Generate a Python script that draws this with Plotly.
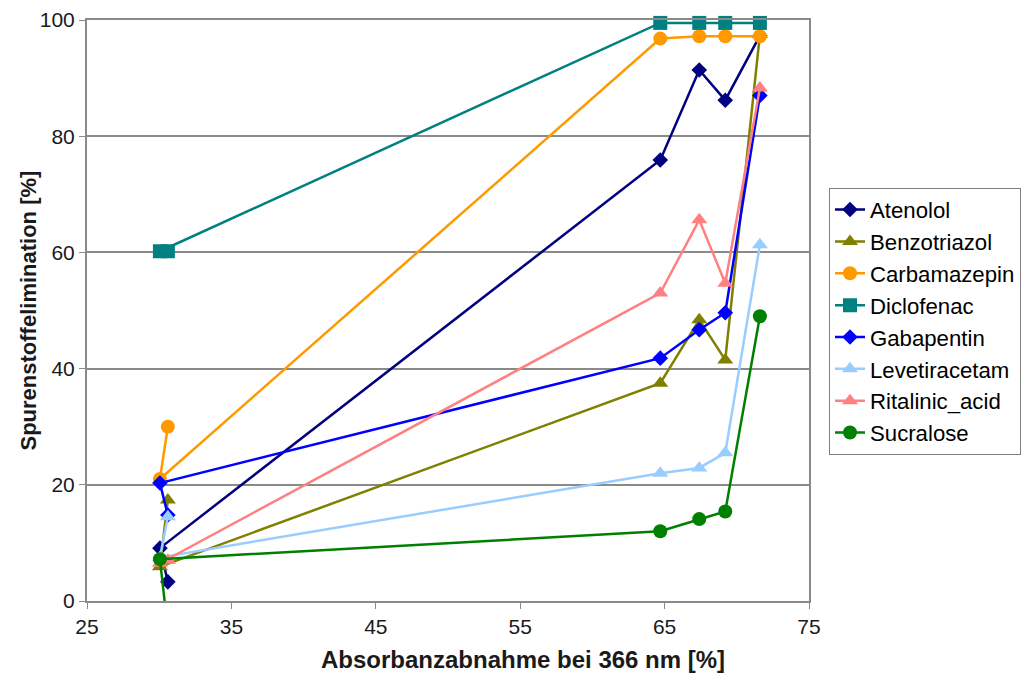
import plotly.graph_objects as go

# Absorbance decrease at 366 nm [%] for each sample (same order for every compound)
absorbance = [30.6, 30.05, 64.7, 67.4, 69.2, 71.6]

# Trace-substance elimination [%] per compound
atenolol = [3.3, 9.1, 75.9, 91.4, 86.2, 97.3]
benzotriazol = [17.4, 5.9, 37.5, 48.4, 41.5, 97.5]
carbamazepin = [30.0, 21.0, 96.8, 97.2, 97.2, 97.2]
diclofenac = [60.2, 60.2, 99.5, 99.5, 99.5, 99.5]
gabapentin = [14.8, 20.3, 41.8, 46.7, 49.6, 87.0]
levetiracetam = [14.5, 7.5, 22.0, 22.9, 25.5, 61.3]
ritalinic_acid = [7.0, 6.5, 53.0, 65.6, 54.7, 88.3]
sucralose = [-5.0, 7.2, 12.0, 14.1, 15.4, 49.0]

series = [
    ("Atenolol", atenolol, "#000080", "diamond", 12),
    ("Benzotriazol", benzotriazol, "#808000", "triangle-up", 14),
    ("Carbamazepin", carbamazepin, "#FF9900", "circle", 14),
    ("Diclofenac", diclofenac, "#008080", "square", 14),
    ("Gabapentin", gabapentin, "#0000FF", "diamond", 12),
    ("Levetiracetam", levetiracetam, "#99CCFF", "triangle-up", 14),
    ("Ritalinic_acid", ritalinic_acid, "#FF8080", "triangle-up", 14),
    ("Sucralose", sucralose, "#008000", "circle", 14),
]

fig = go.Figure()
for name, values, color, symbol, size in series:
    fig.add_trace(go.Scatter(
        x=absorbance, y=values, name=name, mode="lines+markers",
        line=dict(color=color, width=2.5),
        marker=dict(color=color, symbol=symbol, size=size, line=dict(width=0)),
        cliponaxis=(name == "Sucralose"),
    ))

grid = "#8a8a8a"
fig.update_layout(
    width=1035, height=677,
    margin=dict(l=87, r=226, t=20, b=75.5, autoexpand=False),
    paper_bgcolor="white", plot_bgcolor="white",
    font=dict(family="Liberation Sans, Arial, sans-serif", color="#1a1a1a"),
    showlegend=True,
    legend=dict(
        x=1.0277, y=0.7115, xanchor="left", yanchor="top",
        bgcolor="white", bordercolor="#808080", borderwidth=1,
        font=dict(size=22.2, color="#000000"),
    ),
    xaxis=dict(
        range=[25, 75], tick0=25, dtick=10,
        showgrid=False, zeroline=False,
        showline=True, linecolor=grid, linewidth=2, mirror=True,
        ticks="outside", ticklen=6, tickcolor=grid,
        tickfont=dict(size=21),
    ),
    yaxis=dict(
        range=[0, 100], dtick=20,
        showgrid=True, gridcolor=grid, gridwidth=1.5, zeroline=False,
        showline=True, linecolor=grid, linewidth=2, mirror=True,
        ticks="outside", ticklen=6, tickcolor=grid,
        tickfont=dict(size=21),
    ),
    annotations=[
        dict(
            text="<b>Absorbanzabnahme bei 366 nm [%]</b>",
            xref="paper", yref="paper", x=0.604, y=-0.1,
            xanchor="center", yanchor="middle", showarrow=False,
            font=dict(size=24),
        ),
        dict(
            text="<b>Spurenstoffelimination [%]</b>",
            xref="paper", yref="paper", x=-0.0817, y=0.5,
            xanchor="center", yanchor="middle", showarrow=False,
            textangle=-90, font=dict(size=22),
        ),
    ],
)

fig.write_html("out.html")
